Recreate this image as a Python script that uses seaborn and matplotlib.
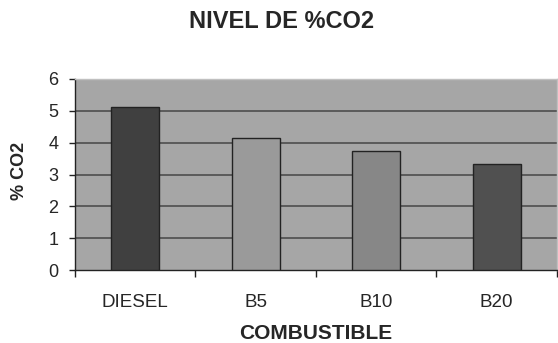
import numpy as np
import pandas as pd
import seaborn as sns
import matplotlib.pyplot as plt

sns.set_style("white")
plt.rcParams['font.family'] = ['Liberation Sans', 'DejaVu Sans']

combustibles = ["DIESEL", "B5", "B10", "B20"]
co2 = [5.13, 4.14, 3.75, 3.32]
colores = ["#404040", "#9a9a9a", "#878787", "#505050"]

data = pd.DataFrame({"COMBUSTIBLE": combustibles, "CO2": co2})

fig = plt.figure(figsize=(5.58, 3.43), dpi=100)
ax = fig.add_axes([0.1344, 0.2128, 0.8638, 0.5569])
ax.set_facecolor("#a6a6a6")

sns.barplot(x="COMBUSTIBLE", y="CO2", hue="COMBUSTIBLE", data=data, palette=colores,
            width=0.4, edgecolor="#222222", linewidth=1, legend=False, ax=ax, zorder=3)

ax.set_ylim(0, 6)
ax.set_xlim(-0.5, 3.5)
ax.set_yticks(range(0, 7))
for y in range(1, 6):
    ax.axhline(y, color="#555555", linewidth=1.3, zorder=1)

ax.tick_params(axis="y", length=4, width=1, color="#222222", labelsize=13, pad=8, left=True)
ax.tick_params(axis="x", which="major", length=0, labelsize=13.5, pad=17)
ax.set_xticks(np.arange(-0.5, 3.6, 1), minor=True)
ax.tick_params(axis="x", which="minor", length=5, width=1, color="#222222", bottom=True)

for s in ["left", "bottom"]:
    ax.spines[s].set_color("#222222")
    ax.spines[s].set_linewidth(1)
for s in ["top", "right"]:
    ax.spines[s].set_color("#c0c0c0")
    ax.spines[s].set_linewidth(1)

ax.set_xlabel("COMBUSTIBLE", fontsize=15, fontweight="bold")
ax.xaxis.set_label_coords(0.499, -0.285)
ax.set_ylabel("% CO2", fontsize=13, fontweight="bold")
ax.yaxis.set_label_coords(-0.097, 0.52)
fig.text(0.504, 0.938, "NIVEL DE %CO2", ha="center", va="center", fontsize=17, fontweight="bold")

plt.savefig("out.png", dpi=100)
